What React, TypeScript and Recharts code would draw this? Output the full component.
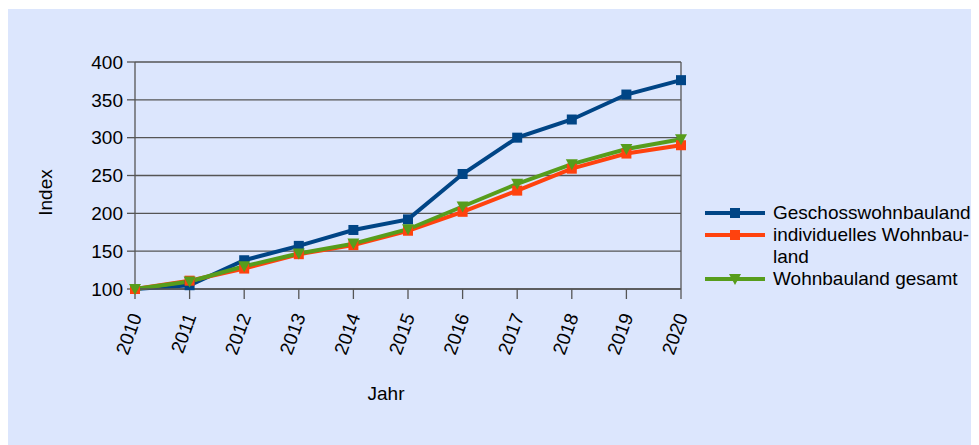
import React from 'react';
import {
  LineChart,
  Line,
  XAxis,
  YAxis,
  CartesianGrid,
  ReferenceLine,
} from 'recharts';

// Jahre der Zeitreihe
const years = ['2010', '2011', '2012', '2013', '2014', '2015', '2016', '2017', '2018', '2019', '2020'];

// Preisindex (2010 = 100)
const geschosswohnbauland = [100, 105, 138, 157, 178, 192, 252, 300, 324, 357, 376];
const individuellesWohnbauland = [100, 111, 127, 146, 158, 177, 202, 230, 259, 279, 290];
const wohnbaulandGesamt = [100, 110, 130, 147, 160, 179, 209, 239, 265, 285, 298];

const yTicks = [100, 150, 200, 250, 300, 350, 400];

const BLUE = '#004586';
const ORANGE = '#ff420e';
const GREEN = '#579d1c';
const GRID = '#555555';
const FONT = '"Liberation Sans", Arial, sans-serif';
const FS = 19;

const data = years.map((year, i) => ({
  year,
  geschoss: geschosswohnbauland[i],
  individuell: individuellesWohnbauland[i],
  gesamt: wohnbaulandGesamt[i],
}));

const SquareDot = (color: string) => (props: any) => {
  const { cx, cy, index } = props;
  if (cx == null || cy == null) return null;
  return <rect key={index} x={cx - 5} y={cy - 5} width={10} height={10} fill={color} />;
};

const TriangleDot = (color: string) => (props: any) => {
  const { cx, cy, index } = props;
  if (cx == null || cy == null) return null;
  return (
    <path key={index} d={`M${cx - 6},${cy - 5} L${cx + 6},${cy - 5} L${cx},${cy + 6} Z`} fill={color} />
  );
};

const XTick = (props: any) => {
  const { x, y, payload } = props;
  return (
    <g transform={`translate(${x + 1},${y + 13})`}>
      <text
        transform="rotate(-70)"
        textAnchor="end"
        dominantBaseline="central"
        fontFamily={FONT}
        fontSize={FS}
        fill="#000"
      >
        {payload.value}
      </text>
    </g>
  );
};

const legendItems = [
  { lines: ['Geschosswohnbauland'], color: BLUE, marker: 'square' },
  { lines: ['individuelles Wohnbau-', 'land'], color: ORANGE, marker: 'square' },
  { lines: ['Wohnbauland gesamt'], color: GREEN, marker: 'triangle' },
];

const ChartLegend = () => (
  <div
    style={{
      position: 'absolute',
      left: 697,
      top: 193,
      fontFamily: FONT,
      fontSize: FS,
      color: '#000',
      lineHeight: '22px',
    }}
  >
    {legendItems.map((item) => (
      <div key={item.lines[0]} style={{ display: 'flex', alignItems: 'flex-start' }}>
        <svg width={68} height={22} style={{ flex: 'none' }}>
          <line x1={0} y1={11} x2={60} y2={11} stroke={item.color} strokeWidth={4} />
          {item.marker === 'square' ? (
            <rect x={25} y={6} width={10} height={10} fill={item.color} />
          ) : (
            <path d="M24,6 L36,6 L30,17 Z" fill={item.color} />
          )}
        </svg>
        <div>
          {item.lines.map((l) => (
            <div key={l} style={{ whiteSpace: 'nowrap' }}>{l}</div>
          ))}
        </div>
      </div>
    ))}
  </div>
);

export default function App() {
  return (
    <div
      style={{
        position: 'relative',
        width: 971,
        height: 436,
        marginTop: 1,
        background: '#dce6fd',
      }}
    >
      <LineChart
        width={971}
        height={436}
        data={data}
        margin={{ top: 53, right: 298, bottom: 0, left: 0 }}
      >
        <CartesianGrid vertical={false} stroke={GRID} strokeWidth={1.3} />
        <XAxis
          dataKey="year"
          height={156}
          tick={<XTick />}
          tickSize={10}
          interval={0}
          stroke={GRID}
          strokeWidth={1.3}
          tickLine={{ stroke: GRID, strokeWidth: 1.3 }}
          label={(p: any) => {
            const vb = p.viewBox;
            return (
              <text
                x={vb.x + vb.width / 2 - 22}
                y={vb.y + 104}
                textAnchor="middle"
                dominantBaseline="central"
                fontFamily={FONT}
                fontSize={FS}
                fill="#000"
              >
                Jahr
              </text>
            );
          }}
        />
        <YAxis
          width={127}
          domain={[100, 400]}
          ticks={yTicks}
          interval={0}
          tickSize={8}
          tickMargin={4}
          stroke={GRID}
          strokeWidth={1.3}
          tick={{ fontFamily: FONT, fontSize: FS, fill: '#000' }}
          label={(p: any) => {
            const vb = p.viewBox;
            const cx = vb.x + 37;
            const cy = vb.y + vb.height / 2 + 17;
            return (
              <text
                x={cx}
                y={cy}
                transform={`rotate(-90, ${cx}, ${cy})`}
                textAnchor="middle"
                dominantBaseline="central"
                fontFamily={FONT}
                fontSize={FS}
                fill="#000"
              >
                Index
              </text>
            );
          }}
        />
        <ReferenceLine x="2020" stroke={GRID} strokeWidth={1.3} />
        <Line
          type="linear"
          dataKey="geschoss"
          name="Geschosswohnbauland"
          stroke={BLUE}
          strokeWidth={4}
          dot={SquareDot(BLUE)}
          isAnimationActive={false}
        />
        <Line
          type="linear"
          dataKey="individuell"
          name="individuelles Wohnbauland"
          stroke={ORANGE}
          strokeWidth={4}
          dot={SquareDot(ORANGE)}
          isAnimationActive={false}
        />
        <Line
          type="linear"
          dataKey="gesamt"
          name="Wohnbauland gesamt"
          stroke={GREEN}
          strokeWidth={4}
          dot={TriangleDot(GREEN)}
          isAnimationActive={false}
        />
      </LineChart>
      <ChartLegend />
    </div>
  );
}
